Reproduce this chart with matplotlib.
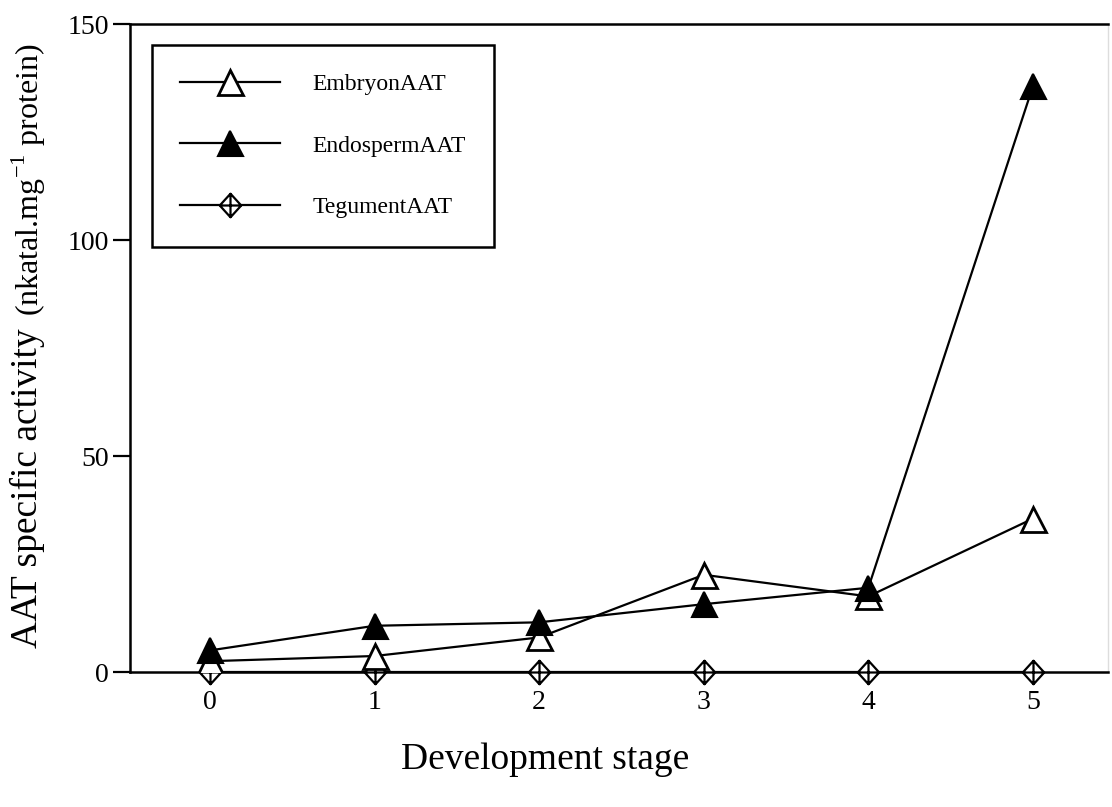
import matplotlib
matplotlib.use('Agg')
from matplotlib import pyplot as plt
from matplotlib.path import Path

stages = [0, 1, 2, 3, 4, 5]
embryon = [2.5, 3.7, 8.0, 22.5, 17.5, 35.5]
endosperm = [5.0, 10.7, 11.5, 15.7, 19.5, 135.6]
tegument = [0, 0, 0, 0, 0, 0]
labels = ['EmbryonAAT', 'EndospermAAT', 'TegumentAAT']

plt.rcParams['font.family'] = ['Liberation Serif', 'DejaVu Serif']

# diamond with a cross inside
diamond_cross = Path(
	[(0, 1.1), (1.0, 0), (0, -1.1), (-1.0, 0), (0, 1.1),
	 (0, 1.1), (0, -1.1), (-1.0, 0), (1.0, 0)],
	[Path.MOVETO, Path.LINETO, Path.LINETO, Path.LINETO, Path.CLOSEPOLY,
	 Path.MOVETO, Path.LINETO, Path.MOVETO, Path.LINETO])

fig = plt.figure(figsize=(11.12, 8.07), dpi=100)
ax = fig.add_axes([130 / 1112, 135 / 807, 978 / 1112, 648 / 807])

lw = 1.6
ax.plot(stages, tegument, color='black', lw=lw, marker=diamond_cross,
	markersize=17, markerfacecolor='white', markeredgecolor='black',
	markeredgewidth=1.6, label=labels[2], clip_on=False, zorder=3)
ax.plot(stages, embryon, color='black', lw=lw, marker='^', markersize=18,
	markerfacecolor='white', markeredgecolor='black', markeredgewidth=2,
	label=labels[0], zorder=4)
ax.plot(stages, endosperm, color='black', lw=lw, marker='^', markersize=18,
	markerfacecolor='black', markeredgecolor='black', markeredgewidth=1.5,
	label=labels[1], zorder=5)

ax.set_xlim(-0.486, 5.456)
ax.set_ylim(0, 150)
ax.set_xticks(stages)
ax.set_yticks([0, 50, 100, 150])
ax.tick_params(axis='x', length=0, pad=13, labelsize=20)
ax.tick_params(axis='y', length=12, width=1.6, pad=3, labelsize=20)

for side in ['left', 'top', 'bottom']:
	ax.spines[side].set_linewidth(1.8)
ax.spines['right'].set_color('#dddddd')
ax.spines['right'].set_linewidth(1.0)

ax.set_xlabel('Development stage', fontsize=27)
ax.xaxis.set_label_coords((545 - 130) / 978, -(760 - 672) / 648)
ax.xaxis.label.set_va('center')

fig.text(37 / 1112, 1 - 648 / 807, 'AAT specific activity', fontsize=27,
	rotation=90, rotation_mode='anchor', ha='left', va='baseline')
fig.text(39 / 1112, 1 - 316 / 807, '(nkatal.mg$^{\\mathregular{-1}}$ protein)',
	fontsize=23, rotation=90, rotation_mode='anchor', ha='left', va='baseline')

handles, labs = ax.get_legend_handles_labels()
order = [1, 2, 0]
leg = ax.legend([handles[i] for i in order], [labs[i] for i in order],
	loc='upper left', bbox_to_anchor=(152 / 1112, 1 - 45 / 807),
	bbox_transform=fig.transFigure, borderaxespad=0, fontsize=17,
	handlelength=4.2, handletextpad=1.4, labelspacing=1.7, borderpad=1.2,
	fancybox=False, framealpha=1, edgecolor='black')
leg.get_frame().set_linewidth(1.8)

plt.savefig('out.png', dpi=100)
